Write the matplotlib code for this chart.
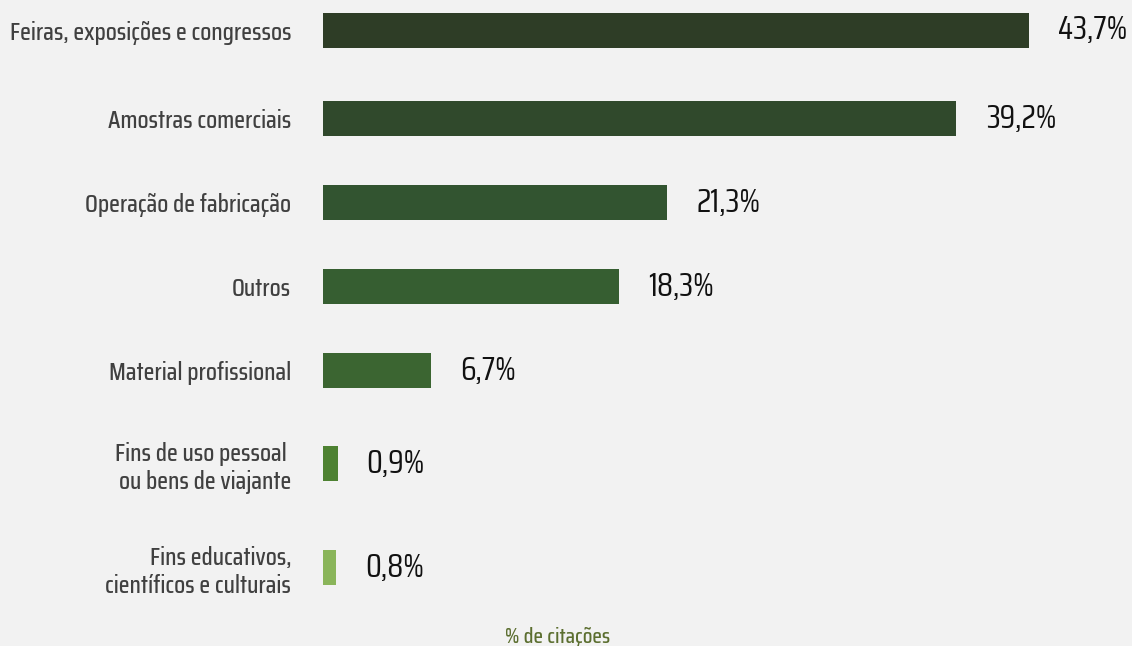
import matplotlib
matplotlib.use("Agg")
import matplotlib.pyplot as plt
from matplotlib import font_manager

# dados
categorias = ["Feiras, exposições e congressos", "Amostras comerciais",
              "Operação de fabricação", "Outros", "Material profissional",
              "Fins de uso pessoal \nou bens de viajante",
              "Fins educativos,\ncientíficos e culturais"]
valores = [43.7, 39.2, 21.3, 18.3, 6.7, 0.9, 0.8]
rotulos = ["43,7%", "39,2%", "21,3%", "18,3%", "6,7%", "0,9%", "0,8%"]
cores = ["#2E3D26", "#30492C", "#325430", "#365E31", "#3B6531", "#4E8232", "#8AB55A"]

# posições das linhas (as duas ultimas tem rotulo em duas linhas)
ypos = [0, 1.048, 2.048, 3.048, 4.048, 5.155, 6.393]

# fonte condensada, se houver
nomes = {f.name for f in font_manager.fontManager.ttflist}
fonte = "DejaVu Sans"
for cand in ["Saira Semi Condensed", "Saira Condensed", "Rajdhani",
             "Barlow Semi Condensed", "Roboto Condensed", "Liberation Sans Narrow"]:
    if cand in nomes:
        fonte = cand
        break
plt.rcParams['font.family'] = [fonte, 'DejaVu Sans']

fig = plt.figure(figsize=(11.32, 6.46), dpi=100, facecolor="#F2F2F2")
ax = fig.add_axes([323 / 1132, 0, 1 - 323 / 1132, 1])
ax.set_facecolor("#F2F2F2")

ax.barh(ypos, valores, height=35 / 84, color=cores)
for y, v, r in zip(ypos, valores, rotulos):
    ax.annotate(r, (v, y), xytext=(21, 0), textcoords="offset points",
                ha="left", va="center", fontsize=23.5, color="#111111")

ax.set_xlim(0, 809 / 16.16)
ax.set_ylim(7.327, -0.363)
ax.set_yticks(ypos, categorias)
ax.tick_params(axis="y", length=0, pad=23, labelsize=18, labelcolor="#404040")
for t in ax.get_yticklabels():
    t.set_fontweight("medium")
ax.set_xticks([])
for s in ax.spines.values():
    s.set_visible(False)

fig.text(558 / 1132, 1 - 637 / 646, "% de citações", ha="center", va="center",
         fontsize=15.8, color="#5B6E2F", fontweight="medium")

fig.savefig("out.png", dpi=100, facecolor=fig.get_facecolor())
